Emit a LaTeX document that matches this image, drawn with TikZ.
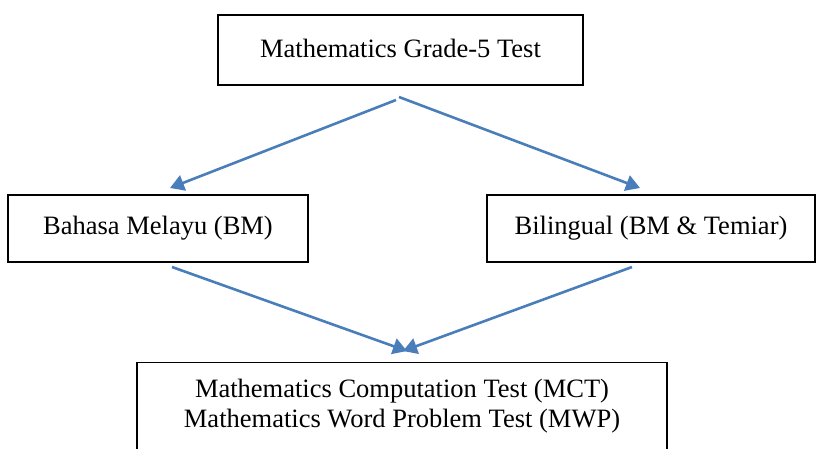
\documentclass[tikz,border=0pt]{standalone}
\usepackage{fontspec}
\setmainfont{Liberation Serif}
\usetikzlibrary{arrows.meta}
\definecolor{arr}{HTML}{4A7EBB}
\begin{document}
\begin{tikzpicture}[x=1pt,y=-1pt,
  box/.style={draw,line width=1.3pt,minimum height=#1,inner sep=0pt,font=\fontsize{26.5}{30}\selectfont,align=center},
  link/.style={draw=arr,line width=2.6pt,-{Triangle[length=14pt,width=16pt]}}]
\useasboundingbox (0,0) rectangle (822,449);
\begin{scope}
\clip (0,0) rectangle (822,449);
\node[box=70pt,minimum width=365pt] (top) at (400.5,50) {\raisebox{4pt}{Mathematics Grade-5 Test}};
\node[box=67pt,minimum width=300pt] (left) at (158,228.5) {Bahasa Melayu (BM)};
\node[box=67pt,minimum width=328pt] (right) at (651,228.5) {Bilingual (BM \& Temiar)};
\node[draw,line width=1.3pt,minimum width=530pt,minimum height=110pt,anchor=north] (bot) at (402,362) {};
\node[font=\fontsize{26.5}{30}\selectfont,align=center] (bottxt) at (402,406) {Mathematics Computation Test (MCT)\\Mathematics Word Problem Test (MWP)};
\end{scope}
\coordinate (s1) at (396,100);
\coordinate (s2) at (399,97);
\coordinate (e1) at (170,188);
\coordinate (e2) at (640,188);
\coordinate (s3) at (172,267);
\coordinate (s4) at (632,267);
\coordinate (e3) at (407,351);
\coordinate (e4) at (403,351);
\draw[link] (s1) -- (e1);
\draw[link] (s2) -- (e2);
\draw[link] (s3) -- (e3);
\draw[link] (s4) -- (e4);
\end{tikzpicture}
\end{document}
